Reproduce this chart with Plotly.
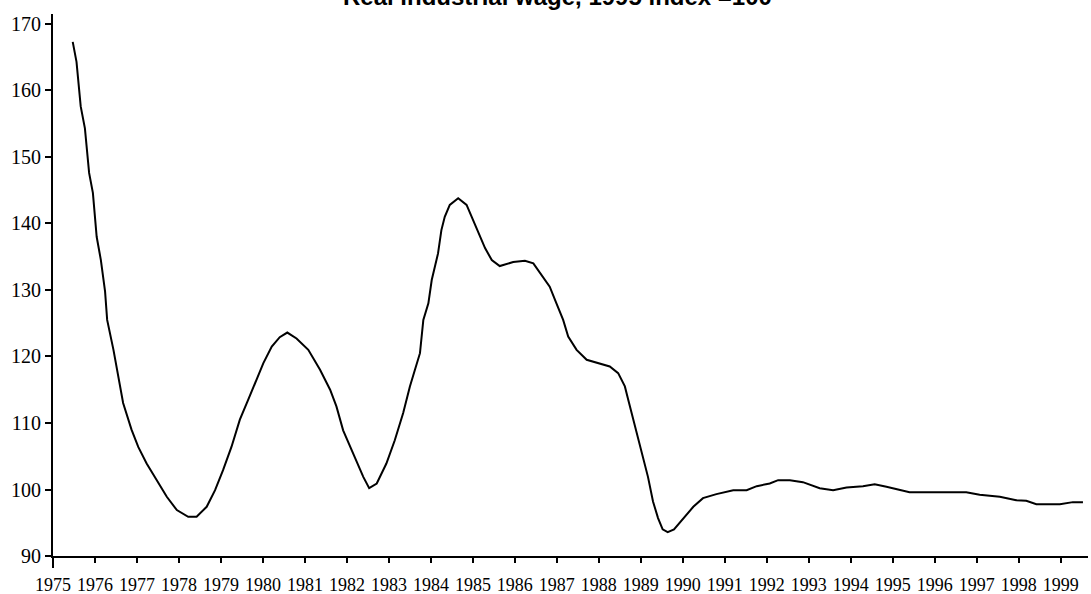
import plotly.graph_objects as go

# Decimal-year positions and real industrial wage index values (1995 = 100)
years = [1975.47, 1975.56, 1975.66, 1975.76, 1975.86, 1975.95, 1976.04, 1976.14, 1976.24, 1976.29,
         1976.44, 1976.52, 1976.67, 1976.87, 1977.03, 1977.23, 1977.47, 1977.71, 1977.95, 1978.22,
         1978.42, 1978.66, 1978.86, 1979.05, 1979.25, 1979.45, 1979.65, 1979.85, 1980.01, 1980.21,
         1980.40, 1980.58, 1980.80, 1981.08, 1981.36, 1981.60, 1981.75, 1981.91, 1982.15, 1982.39,
         1982.53, 1982.71, 1982.94, 1983.14, 1983.34, 1983.50, 1983.62, 1983.74, 1983.82, 1983.94,
         1984.02, 1984.10, 1984.17, 1984.25, 1984.33, 1984.45, 1984.65, 1984.85, 1985.01, 1985.13,
         1985.29, 1985.45, 1985.64, 1985.96, 1986.24, 1986.44, 1986.67, 1986.83, 1986.99, 1987.15,
         1987.27, 1987.47, 1987.71, 1987.94, 1988.26, 1988.46, 1988.62, 1988.70, 1988.82, 1988.94,
         1989.05, 1989.17, 1989.29, 1989.41, 1989.52, 1989.64, 1989.79, 1990.01, 1990.25, 1990.48,
         1990.80, 1991.20, 1991.52, 1991.76, 1992.07, 1992.27, 1992.55, 1992.86, 1993.26, 1993.58,
         1993.90, 1994.29, 1994.57, 1994.85, 1995.17, 1995.40, 1995.96, 1996.75, 1997.07, 1997.55,
         1997.94, 1998.18, 1998.42, 1998.98, 1999.29, 1999.53]
wage = [167.3, 164.3, 157.6, 154.3, 147.6, 144.6, 138.0, 134.5, 129.8, 125.5,
        121.0, 118.0, 113.0, 109.0, 106.4, 103.9, 101.4, 98.9, 96.9, 95.9,
        95.9, 97.4, 99.9, 102.9, 106.4, 110.5, 113.5, 116.5, 119.0, 121.5,
        122.9, 123.6, 122.7, 121.0, 118.0, 115.0, 112.5, 108.9, 105.4, 101.9,
        100.2, 100.9, 103.9, 107.4, 111.5, 115.5, 118.0, 120.5, 125.5, 128.0,
        131.5, 133.5, 135.5, 139.0, 141.0, 142.8, 143.8, 142.8, 140.5, 138.5,
        136.3, 134.5, 133.6, 134.2, 134.4, 134.0, 132.0, 130.5, 128.0, 125.5,
        123.0, 121.0, 119.5, 119.1, 118.5, 117.5, 115.5, 113.5, 110.5, 107.9,
        104.9, 101.9, 98.2, 95.7, 94.0, 93.6, 94.0, 95.7, 97.4, 98.7,
        99.3, 99.9, 99.9, 100.5, 100.9, 101.4, 101.4, 101.1, 100.2, 99.9,
        100.3, 100.5, 100.8, 100.4, 100.0, 99.6, 99.6, 99.6, 99.2, 98.9,
        98.4, 98.3, 97.8, 97.8, 98.1, 98.1]

x_ticks = list(range(1975, 2000))
x_tick_labels = [str(y) for y in x_ticks]
y_ticks = [90, 100, 110, 120, 130, 140, 150, 160, 170]
title_text = "Real industrial wage, 1995 index =100"

fig = go.Figure()
fig.add_trace(go.Scatter(x=years, y=wage, mode="lines",
                         line=dict(color="black", width=2), showlegend=False))

fig.update_layout(
    width=1091, height=594,
    margin=dict(l=53, r=3, t=14, b=38),
    paper_bgcolor="white", plot_bgcolor="white",
    xaxis=dict(range=[1975, 1999.65], tickvals=x_ticks, ticktext=x_tick_labels,
               automargin=False,
               showgrid=False, zeroline=False, showline=True, linecolor="black", linewidth=2,
               ticks="outside", ticklen=5, tickwidth=2, tickcolor="black",
               ticklabelstandoff=6,
               tickfont=dict(family="Liberation Serif, Times New Roman", size=18, color="black")),
    yaxis=dict(range=[90, 171.5], tickvals=y_ticks, automargin=False,
               showgrid=False, zeroline=False, showline=True, linecolor="black", linewidth=2,
               ticks="outside", ticklen=6, tickwidth=2, tickcolor="black",
               tickfont=dict(family="Liberation Serif, Times New Roman", size=20, color="black")),
    shapes=[dict(type="line", xref="paper", yref="paper", x0=0, x1=0, y0=0, y1=-12 / 542,
                 line=dict(color="black", width=2))],
    annotations=[dict(text=f"<b>{title_text}</b>", xref="paper", yref="paper",
                      x=(557 - 53) / 1035, y=1 + 18 / 542, xanchor="center", yanchor="middle",
                      showarrow=False,
                      font=dict(family="Liberation Sans, Arial", size=24, color="black"))],
)

fig.write_html("out.html", config={"displayModeBar": False},
               post_script="document.body.style.margin='0';document.body.style.overflow='hidden';")
